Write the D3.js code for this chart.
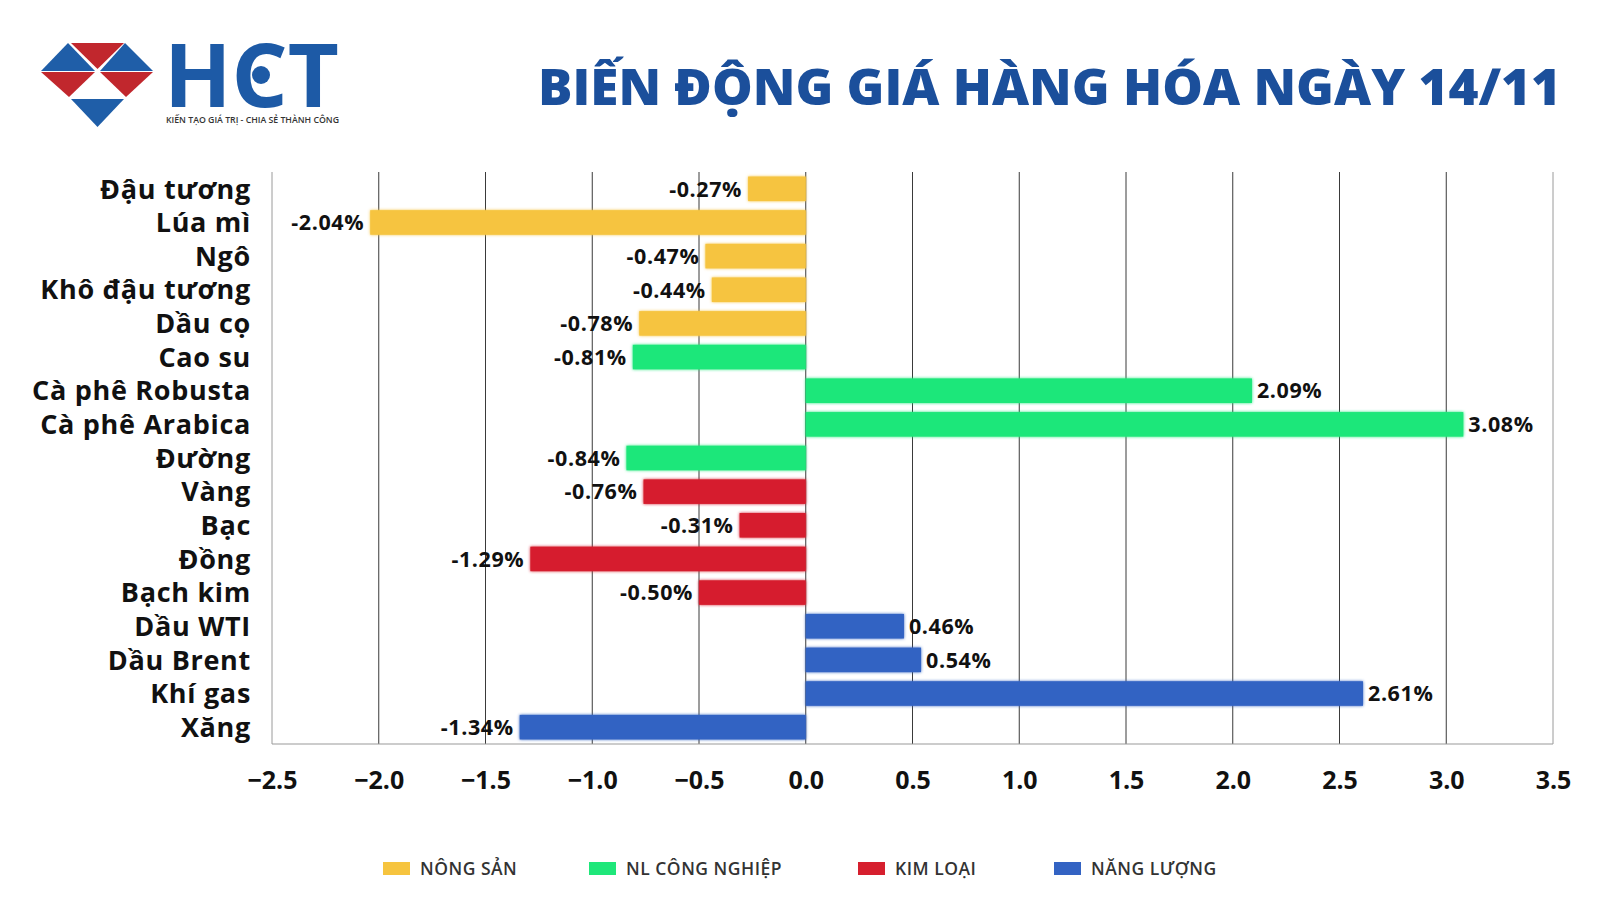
<!DOCTYPE html>
<html><head><meta charset="utf-8">
<script src="https://cdn.jsdelivr.net/npm/d3@7"></script>
<style>
html,body{margin:0;padding:0;background:#fff;}
svg{display:block;}
</style></head>
<body>
<svg id="chart" width="1600" height="897"></svg>
<script>
const categories = ["Đậu tương","Lúa mì","Ngô","Khô đậu tương","Dầu cọ","Cao su","Cà phê Robusta","Cà phê Arabica","Đường","Vàng","Bạc","Đồng","Bạch kim","Dầu WTI","Dầu Brent","Khí gas","Xăng"];
const values = [-0.27,-2.04,-0.47,-0.44,-0.78,-0.81,2.09,3.08,-0.84,-0.76,-0.31,-1.29,-0.50,0.46,0.54,2.61,-1.34];
const groups = ["NÔNG SẢN","NÔNG SẢN","NÔNG SẢN","NÔNG SẢN","NÔNG SẢN","NL CÔNG NGHIỆP","NL CÔNG NGHIỆP","NL CÔNG NGHIỆP","NL CÔNG NGHIỆP","KIM LOẠI","KIM LOẠI","KIM LOẠI","KIM LOẠI","NĂNG LƯỢNG","NĂNG LƯỢNG","NĂNG LƯỢNG","NĂNG LƯỢNG"];
const groupNames = ["NÔNG SẢN","NL CÔNG NGHIỆP","KIM LOẠI","NĂNG LƯỢNG"];
const groupColors = ["#f6c43f","#1fe77a","#d61f2e","#3363c3"];
const xTicks = [-2.5,-2.0,-1.5,-1.0,-0.5,0.0,0.5,1.0,1.5,2.0,2.5,3.0,3.5];
const title = "BIẾN ĐỘNG GIÁ HÀNG HÓA NGÀY 14/11";

const svg = d3.select("#chart");
const FONT = "'Open Sans', 'Noto Sans', sans-serif";

const plot = {left:272, right:1553, top:172, bottom:744};
const x = d3.scaleLinear().domain([-2.5,3.5]).range([plot.left, plot.right]);
const y = d3.scaleBand().domain(categories).range([plot.top, plot.bottom]).paddingInner(0.27).paddingOuter(0.135);
const color = d3.scaleOrdinal().domain(groupNames).range(groupColors);

// gridlines
const grid = svg.append("g");
grid.selectAll("line").data(xTicks).join("line")
  .attr("x1", d=>x(d)).attr("x2", d=>x(d))
  .attr("y1", plot.top).attr("y2", plot.bottom)
  .attr("stroke", (d,i)=> (i===0||i===xTicks.length-1) ? "#9a9a9a" : "#3a3a3a")
  .attr("stroke-width", 1);
grid.append("line").attr("x1", plot.left).attr("x2", plot.right)
  .attr("y1", plot.bottom).attr("y2", plot.bottom).attr("stroke","#9a9a9a").attr("stroke-width",1.2);

// glow filter
const defs = svg.append("defs");
const f = defs.append("filter").attr("id","glow").attr("x","-5%").attr("y","-30%").attr("width","110%").attr("height","160%");
f.append("feGaussianBlur").attr("in","SourceGraphic").attr("stdDeviation",1.6).attr("result","b");
const fm = f.append("feMerge");
fm.append("feMergeNode").attr("in","b");
fm.append("feMergeNode").attr("in","SourceGraphic");

// bars
svg.append("g").attr("filter","url(#glow)").selectAll("rect").data(categories).join("rect")
  .attr("x", (d,i)=> x(Math.min(0, values[i])))
  .attr("width", (d,i)=> Math.abs(x(values[i]) - x(0)))
  .attr("y", d=>y(d))
  .attr("height", y.bandwidth())
  .attr("fill", (d,i)=> color(groups[i]));

// value labels
svg.append("g").selectAll("text").data(categories).join("text")
  .attr("x", (d,i)=> values[i] < 0 ? x(values[i]) - 6 : x(values[i]) + 5)
  .attr("y", d=> y(d) + y.bandwidth()/2)
  .attr("dy","0.36em")
  .attr("text-anchor", (d,i)=> values[i] < 0 ? "end" : "start")
  .attr("font-family", FONT).attr("font-weight",700).attr("font-size",21.5)
  .attr("letter-spacing",0.6)
  .attr("fill","#111")
  .text((d,i)=> values[i].toFixed(2) + "%");

// category axis labels
svg.append("g").selectAll("text").data(categories).join("text")
  .attr("x", 251)
  .attr("y", d=> y(d) + y.bandwidth()/2)
  .attr("dy","0.36em")
  .attr("text-anchor","end")
  .attr("font-family", FONT).attr("font-weight",700).attr("font-size",27)
  .attr("letter-spacing",0.7)
  .attr("fill","#111")
  .text(d=>d);

// x axis tick labels
const xAxis = d3.axisBottom(x).tickValues(xTicks).tickFormat(d3.format(".1f")).tickSize(0).tickPadding(0);
const gx = svg.append("g").attr("transform", `translate(0,${plot.bottom})`).call(xAxis);
gx.select(".domain").remove();
gx.selectAll("text").attr("y", 36).attr("dy","0.36em")
  .attr("font-family", FONT).attr("font-weight",700).attr("font-size",25).attr("fill","#111");

// title
svg.append("text").attr("x",1561).attr("y",105).attr("text-anchor","end")
  .attr("font-family", FONT).attr("font-weight",800).attr("font-size",50)
  .attr("fill","#1b4f9b").attr("textLength",1023).attr("lengthAdjust","spacingAndGlyphs")
  .text(title);

// legend
const legendX = [383, 589, 858, 1054];
const lg = svg.append("g").selectAll("g").data(groupNames).join("g")
  .attr("transform", (d,i)=>`translate(${legendX[i]},869)`);
lg.append("rect").attr("x",0).attr("y",-7).attr("width",27).attr("height",13).attr("fill", d=>color(d));
lg.append("text").attr("x",37).attr("y",0).attr("dy","0.36em")
  .attr("font-family", FONT).attr("font-weight",600).attr("font-size",17.5)
  .attr("letter-spacing",0.5).attr("fill","#333")
  .text(d=>d);

// logo
const logo = svg.append("g");
const red = "#c1272d", blue = "#1f5ea8";
const tri = [
  {p:[[68,43],[41,71],[95,71]], c:blue},
  {p:[[71,43],[124,43],[97.5,69]], c:red},
  {p:[[125,43],[100,71],[153,71]], c:blue},
  {p:[[41,72],[95,72],[69,97]], c:red},
  {p:[[100,72],[153,72],[126,97]], c:red},
  {p:[[71,99],[124,99],[97.5,127]], c:blue}
];
logo.selectAll("path").data(tri).join("path")
  .attr("d", d=> "M" + d.p.map(q=>q.join(",")).join("L") + "Z")
  .attr("fill", d=>d.c);
logo.append("text").attr("x",164).attr("y",107)
  .attr("font-family","'Open Sans', sans-serif").attr("font-weight",700).attr("font-size",88)
  .attr("fill","#1d5aa6").attr("textLength",175).attr("lengthAdjust","spacingAndGlyphs")
  .text("HCT");
logo.append("circle").attr("cx",261).attr("cy",75).attr("r",9).attr("fill","#1d5aa6");
logo.append("text").attr("x",166).attr("y",123)
  .attr("font-family","'Open Sans', sans-serif").attr("font-weight",600).attr("font-size",8)
  .attr("fill","#333").attr("textLength",173).attr("lengthAdjust","spacingAndGlyphs")
  .text("KIẾN TẠO GIÁ TRỊ - CHIA SẺ THÀNH CÔNG");
</script>
</body></html>
